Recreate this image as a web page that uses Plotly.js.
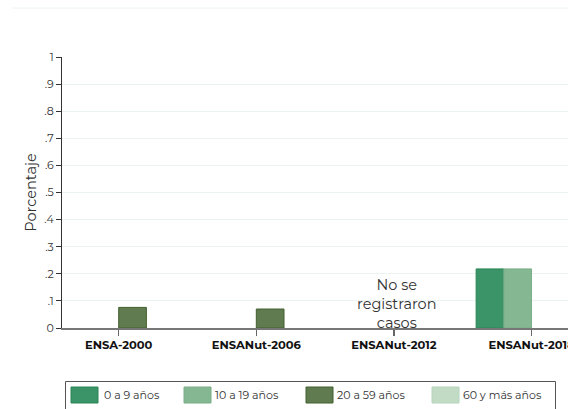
<!DOCTYPE html>
<html>
<head>
<meta charset="utf-8">
<script src="https://cdn.plot.ly/plotly-3.0.1.min.js"></script>
<style>html,body{margin:0;padding:0;background:#fff;}#chart{width:568px;height:409px;}</style>
</head>
<body>
<div id="chart"></div>
<script>
const categories = ['ENSA-2000', 'ENSANut-2006', 'ENSANut-2012', 'ENSANut-2018'];
const seriesNames = ['0 a 9 años', '10 a 19 años', '20 a 59 años', '60 y más años'];
const age0to9 = [null, null, null, 0.218];
const age10to19 = [null, null, null, 0.218];
const age20to59 = [0.076, 0.070, null, null];
const age60plus = [null, null, null, null];
const yTickVals = [0, 0.1, 0.2, 0.3, 0.4, 0.5, 0.6, 0.7, 0.8, 0.9, 1];
const yTickText = ['0', '.1', '.2', '.3', '.4', '.5', '.6', '.7', '.8', '.9', '1'];
const noteText = 'No se<br>registraron<br>casos';

const fills = ['#3a9467', '#84b792', '#607b4f', '#c1dbc5'];
const borders = ['#2a8455', '#7aae88', '#40602f', '#b8d4bc'];
const seriesValues = [age0to9, age10to19, age20to59, age60plus];

const FONT = 'Montserrat, "DejaVu Sans", sans-serif';

const traces = seriesValues.map((vals, i) => ({
  type: 'bar',
  name: seriesNames[i],
  x: categories,
  y: vals,
  marker: {color: fills[i], line: {color: borders[i], width: 1}},
  hoverinfo: 'skip'
}));

// plot area pixel geometry
const W = 568, H = 409;
const mL = 62, mR = 0, mT = 57, mB = 81;
const pw = W - mL - mR, ph = H - mT - mB;
const px = x => (x - mL) / pw;
const py = y => (H - mB - y) / ph;

const shapes = [];
const annotations = [];

// top separator line
shapes.push({type: 'line', xref: 'paper', yref: 'paper', x0: px(12), x1: px(568), y0: py(8), y1: py(8),
  line: {color: '#edf2f2', width: 1}});

// legend box
shapes.push({type: 'rect', xref: 'paper', yref: 'paper', x0: px(65.5), x1: px(555.5), y0: py(381.5), y1: py(420),
  line: {color: '#555', width: 1}, fillcolor: 'rgba(0,0,0,0)'});
const swX = [71, 184, 306, 432];
const txX = [102, 213, 335, 461];
seriesNames.forEach((n, i) => {
  shapes.push({type: 'rect', xref: 'paper', yref: 'paper', x0: px(swX[i]), x1: px(swX[i] + 27), y0: py(403), y1: py(387),
    fillcolor: fills[i], line: {color: borders[i], width: 1}});
  annotations.push({xref: 'paper', yref: 'paper', x: px(txX[i]), y: py(395), text: n, showarrow: false,
    xanchor: 'left', yanchor: 'middle', font: {family: FONT, size: 11, color: '#333'}});
});

// note annotation
annotations.push({x: categories[2], y: 0.09, xref: 'x', yref: 'y', text: noteText, showarrow: false,
  xshift: 3, yanchor: 'middle', font: {family: FONT, size: 14.5, color: '#333'}, align: 'center'});

const layout = {
  width: W, height: H,
  margin: {l: mL, r: mR, t: mT, b: mB},
  paper_bgcolor: '#fff', plot_bgcolor: '#fff',
  font: {family: FONT, color: '#333'},
  barmode: 'group',
  bargap: 0.195,
  bargroupgap: 0,
  showlegend: false,
  xaxis: {
    type: 'category',
    range: [-0.412, 3.265],
    showgrid: false,
    showline: true, linecolor: '#777', linewidth: 1.5,
    ticks: 'outside', ticklen: 6, tickcolor: '#666', tickwidth: 1.5,
    tickfont: {family: FONT, size: 11.5, color: '#111', weight: 'bold'},
    automargin: false, fixedrange: true, zeroline: false
  },
  yaxis: {
    range: [0, 1],
    tickvals: yTickVals, ticktext: yTickText,
    showgrid: true, gridcolor: '#ebf2f2', gridwidth: 1,
    showline: true, linecolor: '#333', linewidth: 1,
    ticks: 'outside', ticklen: 5, tickcolor: '#333',
    tickfont: {family: FONT, size: 11, color: '#333'},
    zeroline: false,
    title: {text: 'Porcentaje', font: {family: FONT, size: 14.5, color: '#333'}, standoff: 4},
    automargin: false, fixedrange: true
  },
  shapes: shapes,
  annotations: annotations
};

Plotly.newPlot('chart', traces, layout, {staticPlot: true, displayModeBar: false});
</script>
</body>
</html>
